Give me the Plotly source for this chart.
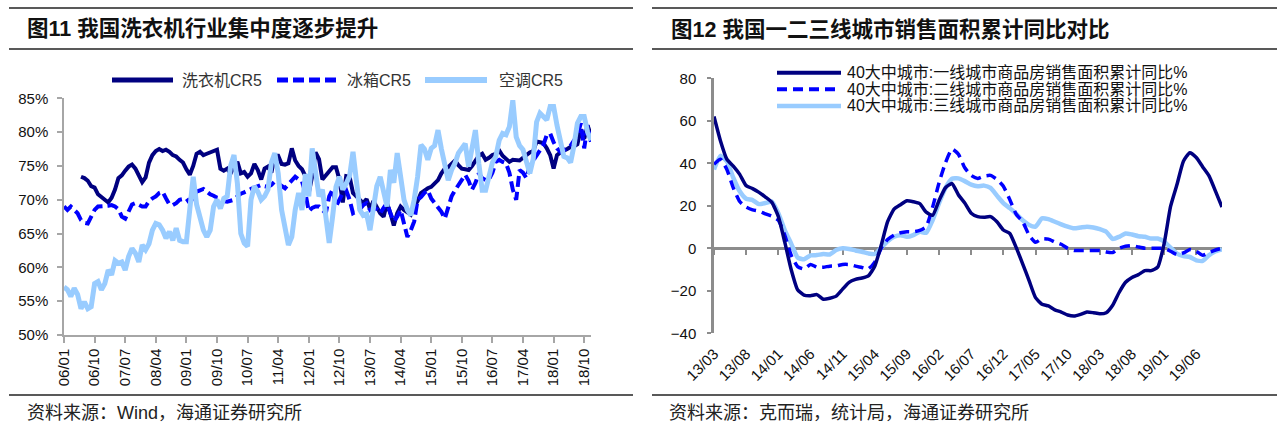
import plotly.graph_objects as go

W, H = 1280, 428


def fx(x):
    return x / W


def fy(y):
    return 1 - y / H


FONT = "Liberation Sans, Noto Sans CJK SC, sans-serif"

# ---------------- left chart data (monthly 2006/01 - 2018/12) ----------------
left_months = [f"{yr % 100:02d}/{m:02d}" for yr in range(2006, 2019) for m in range(1, 13)]
left_ticks = ["06/01", "06/10", "07/07", "08/04", "09/01", "09/10", "10/07", "11/04", "12/01",
              "12/10", "13/07", "14/04", "15/01", "15/10", "16/07", "17/04", "18/01", "18/10"]

washer_cr5 = [
    None, None, None, None, None, 73.4, 73.2, 72.8, 72.0, 71.8,
    70.8, 70.4, 70.0, 69.6, 70.3, 71.5, 73.2, 73.6, 74.3, 74.9,
    75.2, 74.6, 73.6, 72.6, 73.3, 75.5, 76.6, 77.2, 77.5, 77.2,
    77.4, 77.1, 76.6, 76.4, 75.9, 75.5, 74.5, 73.7, 75.0, 76.8,
    77.1, 76.6, 76.8, 77.0, 77.3, 77.4, 74.6, 74.3, 74.6, 73.9,
    74.9, 75.6, 73.9, 74.1, 73.4, 73.9, 75.3, 74.4, 73.0, 74.6,
    74.9, 74.0, 76.5, 76.5, 75.3, 75.2, 75.4, 77.6, 75.8, 75.0,
    74.5, 73.5, 71.0, 73.5, 77.0, 76.0, 73.0, 73.6, 74.4, 74.8,
    74.8, 73.0, 69.6, 73.5, 73.4, 71.0, 70.5, 70.0, 69.5, 70.1,
    68.6, 69.8, 69.0, 68.0, 67.5, 69.5, 68.0, 66.2, 68.0, 69.0,
    68.5, 68.2, 67.8, 69.0, 69.8, 71.0, 71.4, 71.7, 71.9, 72.5,
    72.9, 73.9, 74.6, 74.8, 75.4, 75.8, 75.1, 74.6, 74.5, 74.4,
    75.0, 75.9, 76.5, 76.8, 75.9, 76.2, 76.6, 76.8, 77.3, 76.5,
    76.0, 75.6, 75.9, 75.9, 75.8, 76.2, 76.6, 77.0, 77.2, 78.6,
    78.5, 78.4, 77.6, 76.6, 74.6, 76.6, 77.0, 77.2, 77.5, 77.8,
    77.9, 78.2, 80.4, 79.0, 81.0, 79.5,
]

fridge_cr5 = [
    69.0, 68.5, 69.0, 68.5, 68.0, 67.0, 66.6, 66.5, 67.5, 68.5,
    69.0, 69.0, 69.0, 69.1, 69.2, 69.0, 68.6, 67.5, 67.2, 68.2,
    69.3, 69.5, 69.3, 69.0, 69.0, 69.8, 70.2, 70.5, 71.0, 71.2,
    70.2, 69.3, 69.2, 69.5, 70.0, 70.1, 70.2, 69.5, 70.5, 71.2,
    71.4, 71.6, 71.2, 70.8, 70.6, 70.3, 70.2, 69.8, 69.7, 69.8,
    70.0, 70.5, 70.9, 71.1, 71.4, 71.6, 71.8, 72.0, 72.2, 72.0,
    71.9, 72.2, 72.7, 72.4, 72.0, 71.7, 72.3, 72.9, 73.4, 73.0,
    72.7, 71.0, 68.3, 68.8, 69.0, 69.0, 68.5, 68.0, 70.5, 71.5,
    69.0, 70.0, 71.0, 71.4, 70.0, 68.0, 68.3, 68.6, 69.2, 69.5,
    68.5, 68.8, 68.6, 68.0, 68.8, 69.5, 68.0, 66.8, 67.5, 68.5,
    66.5, 64.5, 65.5, 66.8, 70.0, 70.4, 71.0, 71.4, 70.2, 69.5,
    69.0, 68.2, 67.2, 69.0, 70.5, 71.4, 72.2, 73.0, 73.7, 72.8,
    71.5, 72.5, 73.9, 73.2, 72.9, 73.0, 74.0, 75.6, 75.9, 75.6,
    75.4, 74.0, 71.5, 70.0, 74.4, 74.0, 73.2, 75.0, 75.8, 76.6,
    77.3, 78.1, 79.6, 79.8, 78.5, 77.6, 77.1, 77.3, 77.6, 78.0,
    78.8, 79.5, 81.3, 77.6, 81.0, 78.5,
]

ac_cr5 = [
    57.1, 56.7, 55.7, 56.9, 56.0, 53.9, 54.9, 53.9, 54.2, 57.6,
    57.9, 56.7, 57.6, 59.6, 58.9, 61.0, 60.6, 60.8, 59.6, 61.6,
    62.8, 62.1, 60.8, 63.3, 62.6, 63.5, 65.5, 66.5, 66.3, 65.5,
    64.3, 65.3, 64.0, 65.8, 64.0, 63.8, 63.8, 68.0, 73.4, 69.3,
    67.0, 65.5, 64.5, 65.5, 69.0, 70.0, 68.7, 70.2, 70.5, 75.0,
    76.6, 72.4, 65.0, 63.6, 63.1, 70.0, 72.0, 71.2, 70.0, 70.5,
    71.5, 75.5, 76.9, 73.9, 68.5, 65.5, 63.3, 64.5, 68.5, 71.0,
    68.5, 73.8, 70.5, 77.6, 74.4, 70.5, 71.5, 67.5, 63.6, 67.5,
    71.9, 73.4, 71.5, 72.4, 73.5, 77.1, 73.4, 68.5, 67.7, 67.9,
    65.5, 69.0, 72.0, 73.4, 71.5, 69.0, 74.4, 72.5, 76.9, 73.9,
    70.0, 68.5, 67.7, 70.0, 73.4, 78.1, 77.5, 75.9, 77.6, 78.0,
    80.3, 77.5, 75.4, 72.9, 74.4, 75.4, 76.9, 77.5, 78.3, 74.9,
    78.0, 80.3, 75.4, 71.4, 71.4, 73.4, 75.5, 76.4, 78.8, 79.8,
    79.6, 80.8, 84.7, 79.3, 78.0, 77.4, 75.4, 73.9, 76.0, 81.5,
    82.8, 82.3, 81.8, 83.8, 83.8, 81.0, 78.5, 76.4, 76.2, 75.5,
    78.0, 81.3, 82.3, 82.3, 80.0, 78.8,
]

left_y_ticks = [50, 55, 60, 65, 70, 75, 80, 85]

# ---------------- right chart data (monthly 2013/03 - 2019/10) ----------------
right_months = [f"{yr % 100:02d}/{m:02d}" for yr in range(2013, 2020) for m in range(1, 13)]
right_months = right_months[right_months.index("13/03"):right_months.index("19/10") + 1]
right_ticks = ["13/03", "13/08", "14/01", "14/06", "14/11", "15/04", "15/09", "16/02",
               "16/07", "16/12", "17/05", "17/10", "18/03", "18/08", "19/01", "19/06"]

tier1 = [
    62, 50.6, 41.9, 38.7, 34.8, 29.5, 28.1, 26.3, 24.1, 21.6,
    15, 3, -10, -19.5, -22, -22.3, -21.8, -24, -23.5, -22.5,
    -19.2, -16, -14.6, -14, -13, -8.4, 1.4, 12.5, 18.4, 20.5,
    22.4, 21.9, 21, 17, 15.5, 22.5, 28.5, 30.5, 25.2, 21.3,
    16.5, 14.9, 14.6, 14.9, 12.5, 8.6, 7, 0.3, -7.3, -15.2,
    -23.2, -26.3, -27.1, -29, -30, -31.4, -31.9, -31.1, -30, -30.3,
    -30.8, -30.3, -26.8, -20.8, -16, -13.7, -12.4, -10.5, -10.5, -8.9,
    2.2, 19.7, 30, 41, 45, 42.7, 38.3, 34, 26.8, 19.4,
]
tier2 = [
    39.5, 41.9, 37.1, 28.4, 22, 19.4, 18.1, 17.5, 16.2, 15.1,
    13.3, 6.2, -3.3, -8.6, -9.7, -7.6, -8.9, -8.9, -8.4, -8.3,
    -7.6, -7.6, -8.4, -9, -9.7, -6.5, 0, 4.1, 6.2, 7.3,
    7.8, 7.8, 8.4, 10.2, 19.4, 30.8, 40.3, 46.7, 44.3, 37.9,
    34.3, 32.9, 34, 34.3, 32.4, 29.2, 22.9, 16, 12.5, 6.2,
    2.8, 4.5, 4.3, 3, 1.9, 0, -1, -1, -1, -1,
    -1, -1.7, -2, 0, 1, 1.3, 0.6, 0, 0, 0,
    0, -1.4, -3, -2.2, -0.6, -1.4, -3.3, -2, -0.8, 0,
]
tier3 = [
    37.1, 43.5, 41, 33.2, 26.8, 23.3, 22.7, 20.8, 21.3, 22,
    16.5, 8.6, 2.2, -4.3, -5.2, -3.3, -3.2, -2.7, -2.9, -0.8,
    0, -0.3, -1, -1.6, -2.4, -2.7, 0.3, 3.3, 5.4, 6.2,
    5.4, 6.2, 7.8, 7.3, 13.3, 21.3, 28.4, 32.7, 32.9, 31.6,
    30, 29.2, 29.5, 28.4, 24.8, 21.3, 18.9, 16.2, 13.2, 11,
    10.2, 14.1, 13.7, 12.5, 11.3, 10.2, 9.4, 9.8, 10.2, 9.8,
    9, 7.8, 4.4, 5.4, 7, 6.5, 5.7, 5.4, 4.6, 4.6,
    3.2, 0.3, -2.5, -3.7, -4.1, -5.7, -5.9, -3.2, -1.4, -0.5,
]
right_y_range = [-40, 80]

NAVY = "#000080"
BLUE = "#0000FF"
LIGHT = "#99CCFF"
AXIS_L = "#a6a6a6"
AXIS_R = "#8c8c8c"

fig = go.Figure()

# left chart series
fig.add_trace(go.Scatter(x=left_months, y=washer_cr5, mode="lines", name="洗衣机CR5",
                         line=dict(color=NAVY, width=4), xaxis="x", yaxis="y", showlegend=False))
fig.add_trace(go.Scatter(x=left_months, y=fridge_cr5, mode="lines", name="冰箱CR5",
                         line=dict(color=BLUE, width=4, dash="11px,5px"), xaxis="x", yaxis="y",
                         showlegend=False))
fig.add_trace(go.Scatter(x=left_months, y=ac_cr5, mode="lines", name="空调CR5",
                         line=dict(color=LIGHT, width=5), xaxis="x", yaxis="y", showlegend=False))

# right chart series
right_names = ["40大中城市:一线城市商品房销售面积累计同比%",
               "40大中城市:二线城市商品房销售面积累计同比%",
               "40大中城市:三线城市商品房销售面积累计同比%"]
fig.add_trace(go.Scatter(x=right_months, y=tier3, mode="lines", name=right_names[2],
                         line=dict(color=LIGHT, width=4.5, shape="spline", smoothing=0.5),
                         xaxis="x2", yaxis="y2", showlegend=False))
fig.add_trace(go.Scatter(x=right_months, y=tier2, mode="lines", name=right_names[1],
                         line=dict(color=BLUE, width=3.5, dash="10px,6px", shape="spline", smoothing=0.5),
                         xaxis="x2", yaxis="y2", showlegend=False))
fig.add_trace(go.Scatter(x=right_months, y=tier1, mode="lines", name=right_names[0],
                         line=dict(color=NAVY, width=3.5, shape="spline", smoothing=0.5),
                         xaxis="x2", yaxis="y2", showlegend=False))
# invisible trace to carry the zero-line axis
fig.add_trace(go.Scatter(x=right_months, y=[None] * len(right_months), mode="lines",
                         xaxis="x3", yaxis="y2", showlegend=False, hoverinfo="skip"))

left_xdom = [fx(64), fx(591)]
left_ydom = [fy(335), fy(98.3)]
right_xdom = [fx(714), fx(1222)]
right_ydom = [fy(333.3), fy(78.3)]
zero_pos = right_ydom[0] + (0 - right_y_range[0]) / (right_y_range[1] - right_y_range[0]) * (
    right_ydom[1] - right_ydom[0])

tickfont = dict(family=FONT, size=15, color="#111")

fig.update_layout(
    template="none",
    width=W, height=H, margin=dict(l=0, r=0, t=0, b=0, autoexpand=False),
    paper_bgcolor="white", plot_bgcolor="white",
    xaxis=dict(domain=left_xdom, anchor="y", type="category", range=[0, len(left_months) - 1],
               tickmode="array", tickvals=left_ticks, ticktext=left_ticks, tickangle=-90,
               ticks="outside", ticklen=6, tickwidth=1.5, tickcolor=AXIS_L,
               showline=True, linecolor=AXIS_L, linewidth=1.5, showgrid=False, zeroline=False,
               tickfont=tickfont, layer="below traces", automargin=False),
    yaxis=dict(domain=left_ydom, anchor="x", range=[50, 85], tickmode="array",
               tickvals=left_y_ticks, ticktext=[f"{v}%" for v in left_y_ticks],
               ticks="outside", ticklen=5, tickwidth=1.5, tickcolor=AXIS_L,
               showline=True, linecolor=AXIS_L, linewidth=1.5, showgrid=False, zeroline=False,
               tickfont=tickfont, ticklabelstandoff=6, layer="below traces", automargin=False),
    xaxis2=dict(domain=right_xdom, anchor="y2", type="category", range=[0, len(right_months) - 1],
                tickmode="array", tickvals=right_ticks, ticktext=right_ticks, tickangle=-45,
                ticks="", showline=False, showgrid=False, zeroline=False,
                tickfont=tickfont, ticklabelstandoff=8, automargin=False),
    yaxis2=dict(domain=right_ydom, anchor="x2", range=right_y_range, dtick=20, tick0=-40,
                ticks="outside", ticklen=4, tickwidth=2, tickcolor=AXIS_R,
                showline=True, linecolor=AXIS_R, linewidth=2.5, showgrid=False, zeroline=False,
                tickfont=tickfont, ticklabelstandoff=8, layer="below traces", automargin=False),
    xaxis3=dict(overlaying="x2", anchor="free", position=zero_pos, type="category",
                categoryorder="array", categoryarray=right_months,
                range=[0, len(right_months) - 1], tickmode="array", tickvals=right_ticks,
                ticks="outside", ticklen=5, tickwidth=2, tickcolor=AXIS_R,
                showline=True, linecolor=AXIS_R, linewidth=2.5, showticklabels=False,
                showgrid=False, zeroline=False, layer="below traces", automargin=False),
)

shapes = []
annotations = []

# panel rules
for x0, x1 in [(9, 633), (652, 1277)]:
    for yy in [8, 49, 395]:
        shapes.append(dict(type="line", xref="paper", yref="paper", x0=fx(x0), x1=fx(x1),
                           y0=fy(yy), y1=fy(yy), line=dict(color="#222", width=1.5)))

# titles
annotations.append(dict(text="<b>图11 我国洗衣机行业集中度逐步提升</b>", xref="paper", yref="paper",
                        x=fx(25), y=fy(29), xanchor="left", yanchor="middle", showarrow=False,
                        font=dict(family=FONT, size=21.5, color="#111")))
annotations.append(dict(text="<b>图12 我国一二三线城市销售面积累计同比对比</b>", xref="paper", yref="paper",
                        x=fx(669), y=fy(29), xanchor="left", yanchor="middle", showarrow=False,
                        font=dict(family=FONT, size=21.5, color="#111")))
# footers
annotations.append(dict(text="资料来源：Wind，海通证券研究所", xref="paper", yref="paper",
                        x=fx(25), y=fy(413), xanchor="left", yanchor="middle", showarrow=False,
                        font=dict(family=FONT, size=18, color="#222")))
annotations.append(dict(text="资料来源：克而瑞，统计局，海通证券研究所", xref="paper", yref="paper",
                        x=fx(667), y=fy(413), xanchor="left", yanchor="middle", showarrow=False,
                        font=dict(family=FONT, size=18, color="#222")))

# left legend
left_legend = [("洗衣机CR5", NAVY, "solid", 5, 112, 173, 180),
               ("冰箱CR5", BLUE, "11px,5px", 5, 277, 338, 345),
               ("空调CR5", LIGHT, "solid", 6, 425, 487, 497)]
for name, col, dash, wdt, lx0, lx1, tx in left_legend:
    shapes.append(dict(type="line", xref="paper", yref="paper", x0=fx(lx0), x1=fx(lx1),
                       y0=fy(80), y1=fy(80), line=dict(color=col, width=wdt, dash=dash)))
    annotations.append(dict(text=name, xref="paper", yref="paper", x=fx(tx), y=fy(80),
                            xanchor="left", yanchor="middle", showarrow=False,
                            font=dict(family=FONT, size=16, color="#333")))

# right legend
right_legend = [(right_names[0], NAVY, "solid", 4, 72.7),
                (right_names[1], BLUE, "10px,6px", 4, 89.3),
                (right_names[2], LIGHT, "solid", 4.5, 106)]
for name, col, dash, wdt, yy in right_legend:
    shapes.append(dict(type="line", xref="paper", yref="paper", x0=fx(777), x1=fx(841),
                       y0=fy(yy), y1=fy(yy), line=dict(color=col, width=wdt, dash=dash)))
    annotations.append(dict(text=name, xref="paper", yref="paper", x=fx(845), y=fy(yy),
                            xanchor="left", yanchor="middle", showarrow=False,
                            font=dict(family=FONT, size=16, color="#111")))

fig.update_layout(shapes=shapes, annotations=annotations)

fig.write_html("out.html")
